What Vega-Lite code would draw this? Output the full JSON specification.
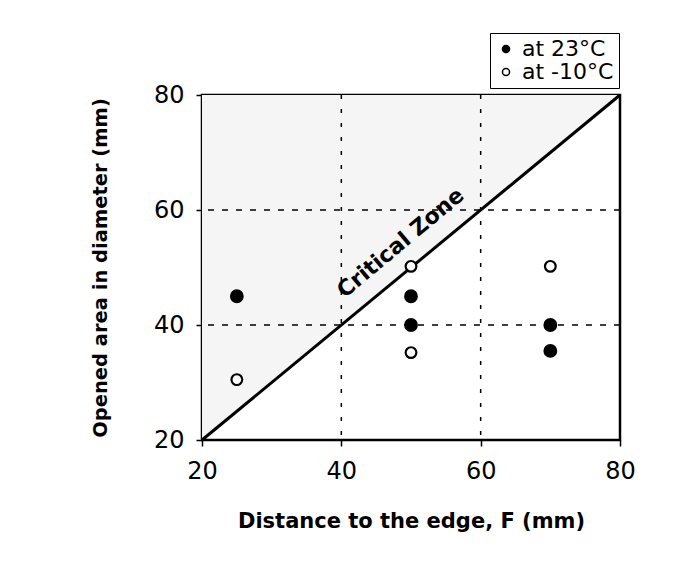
{
  "$schema": "https://vega.github.io/schema/vega-lite/v6.json",
  "width": 418,
  "height": 345,
  "autosize": "none",
  "padding": {"left": 202, "top": 95, "right": 72, "bottom": 123},
  "background": "white",
  "config": {
    "view": {"stroke": "black", "strokeWidth": 2.5},
    "font": "DejaVu Sans",
    "axis": {
      "domain": false,
      "grid": false,
      "tickColor": "black",
      "tickWidth": 1.5,
      "tickSize": 6,
      "labelFont": "DejaVu Sans",
      "labelFontSize": 24,
      "labelColor": "black",
      "titleFont": "DejaVu Sans",
      "titleFontSize": 21,
      "titleFontWeight": "bold",
      "titleColor": "black"
    },
    "legend": {
      "labelFont": "DejaVu Sans",
      "labelFontSize": 22,
      "labelColor": "black"
    }
  },
  "layer": [
    {
      "data": {"values": [{"x": 20, "y": 20, "y2": 80}, {"x": 80, "y": 80, "y2": 80}]},
      "mark": {"type": "area", "fill": "#f5f5f5"},
      "encoding": {
        "x": {"field": "x", "type": "quantitative", "scale": {"domain": [20, 80], "nice": false, "zero": false},
              "axis": {"values": [20, 40, 60, 80], "title": "Distance to the edge, F (mm)", "labelPadding": 13, "titlePadding": 27, "labelFlush": false}},
        "y": {"field": "y", "type": "quantitative", "scale": {"domain": [20, 80], "nice": false, "zero": false},
              "axis": {"values": [20, 40, 60, 80], "title": "Opened area in diameter (mm)", "titleFontSize": 19.5, "labelPadding": 12, "titlePadding": 43, "labelFlush": false}},
        "y2": {"field": "y2"}
      }
    },
    {
      "data": {"values": [{"g": 40}, {"g": 60}]},
      "mark": {"type": "rule", "color": "black", "strokeWidth": 1.5, "strokeDash": [4, 10]},
      "encoding": {
        "x": {"field": "g", "type": "quantitative"}
      }
    },
    {
      "data": {"values": [{"g": 40}, {"g": 60}]},
      "mark": {"type": "rule", "color": "black", "strokeWidth": 1.5, "strokeDash": [6, 8]},
      "encoding": {
        "y": {"field": "g", "type": "quantitative"}
      }
    },
    {
      "data": {"values": [{"x": 20, "y": 20, "x2": 80, "y2": 80}]},
      "mark": {"type": "rule", "color": "black", "strokeWidth": 3},
      "encoding": {
        "x": {"field": "x", "type": "quantitative"},
        "y": {"field": "y", "type": "quantitative"},
        "x2": {"field": "x2"},
        "y2": {"field": "y2"}
      }
    },
    {
      "data": {"values": [{"x": 48.5, "y": 54.3, "label": "Critical Zone"}]},
      "mark": {"type": "text", "angle": -40, "fontSize": 22, "fontWeight": "bold", "font": "DejaVu Sans", "color": "black"},
      "encoding": {
        "x": {"field": "x", "type": "quantitative"},
        "y": {"field": "y", "type": "quantitative"},
        "text": {"field": "label"}
      }
    },
    {
      "data": {"values": [
        {"F": 25, "D": 45, "series": "at 23°C"},
        {"F": 50, "D": 45, "series": "at 23°C"},
        {"F": 50, "D": 40, "series": "at 23°C"},
        {"F": 70, "D": 40, "series": "at 23°C"},
        {"F": 70, "D": 35.5, "series": "at 23°C"}
      ]},
      "mark": {"type": "point", "shape": "circle", "filled": true, "stroke": "black", "strokeWidth": 2, "size": 140, "opacity": 1},
      "encoding": {
        "x": {"field": "F", "type": "quantitative"},
        "y": {"field": "D", "type": "quantitative"},
        "fill": {
          "field": "series", "type": "nominal",
          "scale": {"domain": ["at 23°C", "at -10°C"], "range": ["black", "white"]},
          "legend": {
            "title": null,
            "orient": "none",
            "legendX": 288,
            "legendY": -62,
            "strokeColor": "black",
            "fillColor": "white",
            "padding": 5,
            "rowPadding": 1,
            "symbolType": "circle",
            "symbolSize": 50,
            "symbolStrokeColor": "black",
            "symbolStrokeWidth": 1.5,
            "labelOffset": 5
          }
        }
      }
    },
    {
      "data": {"values": [
        {"F": 25, "D": 30.5, "series": "at -10°C"},
        {"F": 50, "D": 50.2, "series": "at -10°C"},
        {"F": 50, "D": 35.2, "series": "at -10°C"},
        {"F": 70, "D": 50.2, "series": "at -10°C"}
      ]},
      "mark": {"type": "point", "shape": "circle", "filled": true, "stroke": "black", "strokeWidth": 2.2, "size": 115, "opacity": 1},
      "encoding": {
        "x": {"field": "F", "type": "quantitative"},
        "y": {"field": "D", "type": "quantitative"},
        "fill": {"field": "series", "type": "nominal"}
      }
    }
  ]
}
